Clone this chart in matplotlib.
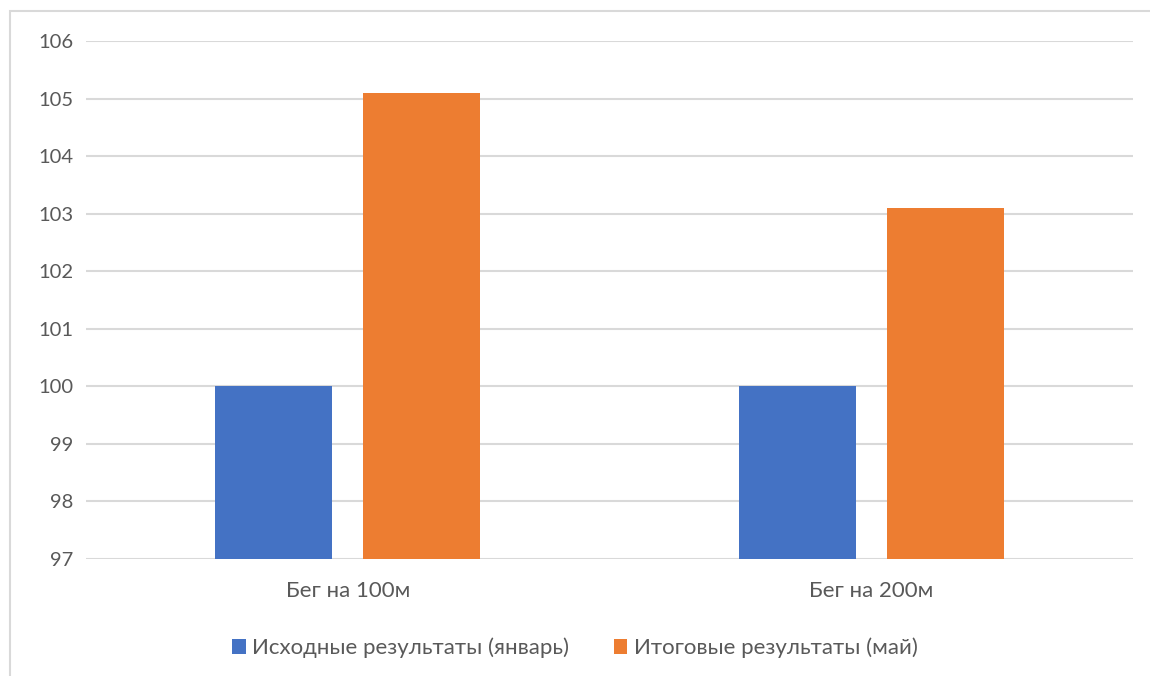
import matplotlib.pyplot as plt
import numpy as np
from matplotlib.patches import Rectangle

categories = ['Бег на 100м', 'Бег на 200м']
series_names = ['Исходные результаты (январь)', 'Итоговые результаты (май)']
jan_values = [100, 100]
may_values = [105.1, 103.1]
y_ticks = [97, 98, 99, 100, 101, 102, 103, 104, 105, 106]

blue = '#4472C4'
orange = '#ED7D31'
text_col = '#595959'

plt.rcParams['font.family'] = ['Lato', 'DejaVu Sans']

W, H = 1150, 676
fig = plt.figure(figsize=(W / 100, H / 100), dpi=100)
ax = fig.add_axes([86 / W, 1 - 559 / H, (1133 - 86) / W, (559 - 41) / H])

x = np.arange(len(categories))
w = 0.2235
off = 0.1418
ax.bar(x - off, np.array(jan_values) - 97, w, bottom=97, color=blue, label=series_names[0], zorder=3)
ax.bar(x + off, np.array(may_values) - 97, w, bottom=97, color=orange, label=series_names[1], zorder=3)

ax.set_xlim(-0.5, 1.5)
ax.set_ylim(97, 106)
ax.set_yticks(y_ticks)
ax.set_xticks(x)
ax.set_xticklabels(categories)
ax.tick_params(axis='both', length=0, colors=text_col)
ax.tick_params(axis='y', pad=9, labelsize=14.5)
ax.tick_params(axis='x', pad=16, labelsize=16)
ax.grid(axis='y', color='#d9d9d9', linewidth=1.5, zorder=0)
for s in ax.spines.values():
    s.set_visible(False)

leg = fig.legend(loc='center', bbox_to_anchor=(0.5, 1 - 648 / H), ncol=2, frameon=False,
                 fontsize=16, handlelength=0.6, handleheight=0.6, handletextpad=0.3,
                 columnspacing=2.0)
for t in leg.get_texts():
    t.set_color(text_col)

# outer chart border (cut off on right and bottom)
fig.patches.append(Rectangle((10 / W, -0.1), 1.2, 1 - 11 / H + 0.1, transform=fig.transFigure,
                             fill=False, edgecolor='#d9d9d9', linewidth=1.5))

fig.savefig('out.png', dpi=100)
